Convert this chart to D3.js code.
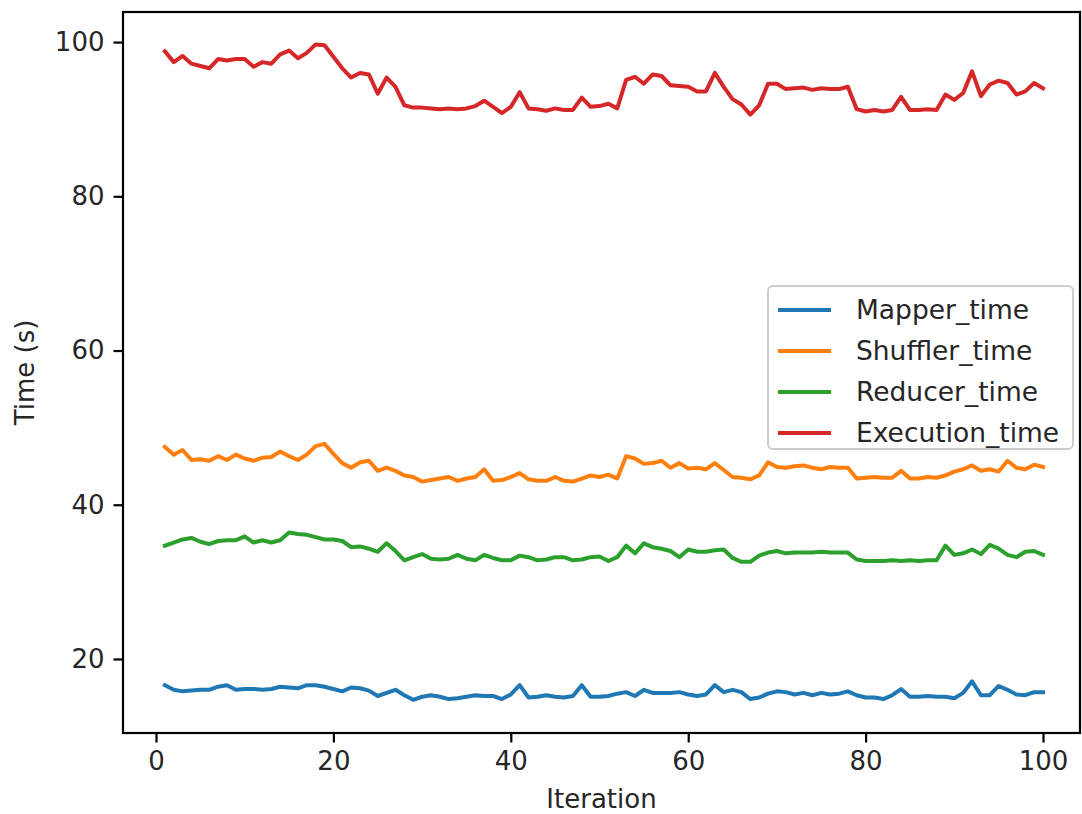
<!DOCTYPE html>
<html>
<head>
<meta charset="utf-8">
<script src="https://cdn.jsdelivr.net/npm/d3@7"></script>
<style>
  html, body { margin: 0; padding: 0; background: #fff; }
  svg { display: block; font-family: "DejaVu Sans", sans-serif; }
</style>
</head>
<body>
<svg id="chart" width="1082" height="814"></svg>
<script>
const iterations = d3.range(1, 101);
const mapperTime = [16.6,16.0,15.8,15.9,16.0,16.0,16.4,16.6,16.0,16.1,16.1,16.0,16.1,16.4,16.3,16.2,16.6,16.6,16.4,16.1,15.8,16.3,16.2,15.9,15.2,15.6,16.0,15.3,14.7,15.1,15.3,15.1,14.8,14.9,15.1,15.3,15.2,15.2,14.8,15.4,16.6,15.0,15.1,15.3,15.1,15.0,15.2,16.6,15.1,15.1,15.2,15.5,15.7,15.2,16.0,15.6,15.6,15.6,15.7,15.4,15.2,15.4,16.6,15.7,16.0,15.7,14.8,15.0,15.5,15.8,15.7,15.4,15.6,15.3,15.6,15.4,15.5,15.8,15.3,15.0,15.0,14.8,15.3,16.1,15.1,15.1,15.2,15.1,15.1,14.9,15.6,17.1,15.3,15.3,16.5,16.0,15.4,15.3,15.7,15.7];
const shufflerTime = [47.5,46.5,47.1,45.8,45.9,45.7,46.3,45.8,46.5,46.0,45.7,46.1,46.2,46.9,46.3,45.8,46.5,47.6,47.9,46.6,45.4,44.8,45.5,45.7,44.4,44.8,44.4,43.8,43.6,43.0,43.2,43.4,43.6,43.1,43.4,43.6,44.6,43.1,43.2,43.6,44.1,43.3,43.1,43.1,43.6,43.1,43.0,43.4,43.8,43.6,43.9,43.4,46.3,46.0,45.3,45.4,45.7,44.8,45.4,44.7,44.8,44.6,45.4,44.5,43.6,43.5,43.3,43.8,45.5,44.9,44.8,45.0,45.1,44.8,44.6,44.9,44.8,44.8,43.4,43.5,43.6,43.5,43.5,44.4,43.4,43.4,43.6,43.5,43.8,44.3,44.6,45.1,44.4,44.6,44.3,45.7,44.8,44.6,45.2,44.9];
const reducerTime = [34.7,35.1,35.5,35.7,35.2,34.9,35.3,35.4,35.4,35.9,35.1,35.4,35.1,35.4,36.4,36.2,36.1,35.8,35.5,35.5,35.3,34.5,34.6,34.3,33.9,35.0,34.0,32.8,33.2,33.6,33.0,32.9,33.0,33.5,33.0,32.8,33.5,33.1,32.8,32.8,33.4,33.2,32.8,32.9,33.2,33.2,32.8,32.9,33.2,33.3,32.7,33.2,34.7,33.7,35.0,34.5,34.3,34.0,33.2,34.2,33.9,33.9,34.1,34.2,33.1,32.6,32.6,33.4,33.8,34.0,33.7,33.8,33.8,33.8,33.9,33.8,33.8,33.8,32.9,32.7,32.7,32.7,32.8,32.7,32.8,32.7,32.8,32.8,34.7,33.5,33.7,34.2,33.6,34.8,34.3,33.5,33.2,33.9,34.0,33.5];
const executionTime = [98.8,97.4,98.2,97.2,96.9,96.6,97.8,97.6,97.8,97.8,96.8,97.4,97.2,98.4,98.9,97.9,98.6,99.7,99.6,98.1,96.6,95.4,96.0,95.8,93.3,95.4,94.2,91.8,91.5,91.5,91.4,91.3,91.4,91.3,91.4,91.7,92.4,91.6,90.8,91.6,93.5,91.4,91.3,91.1,91.4,91.2,91.2,92.8,91.6,91.7,92.0,91.4,95.1,95.5,94.6,95.8,95.6,94.4,94.3,94.2,93.6,93.6,96.0,94.2,92.6,91.9,90.6,91.8,94.6,94.6,93.9,94.0,94.1,93.8,94.0,93.9,93.9,94.2,91.3,91.0,91.2,91.0,91.2,92.9,91.2,91.2,91.3,91.2,93.2,92.5,93.4,96.2,93.0,94.5,95.0,94.7,93.2,93.6,94.7,94.0];

const seriesNames = ["Mapper_time", "Shuffler_time", "Reducer_time", "Execution_time"];
const seriesValues = [mapperTime, shufflerTime, reducerTime, executionTime];
const seriesColors = ["#1f77b4", "#ff7f0e", "#2ca02c", "#d62728"];
const xTicks = [0, 20, 40, 60, 80, 100];
const yTicks = [20, 40, 60, 80, 100];

(function () {
const svg = d3.select("#chart");
const pl = 123, pr = 1080, pt = 12, pb = 733;
const FS = 26;

const x = d3.scaleLinear().domain([-3.72, 104.17]).range([pl, pr]);
const y = d3.scaleLinear().domain([10.4, 103.9]).range([pb, pt]);

// lines
const line = d3.line().x((d, i) => x(iterations[i])).y(d => y(d));
seriesValues.forEach((vals, k) => {
  svg.append("path")
    .datum(vals)
    .attr("fill", "none")
    .attr("stroke", seriesColors[k])
    .attr("stroke-width", 4)
    .attr("stroke-linejoin", "round")
    .attr("stroke-linecap", "square")
    .attr("d", line);
});

// frame
svg.append("rect")
  .attr("x", pl).attr("y", pt)
  .attr("width", pr - pl).attr("height", pb - pt)
  .attr("fill", "none").attr("stroke", "#000").attr("stroke-width", 2.2);

// axes
const xAxis = d3.axisBottom(x).tickValues(xTicks).tickSize(9.5).tickPadding(9).tickFormat(d3.format("d"));
const gx = svg.append("g").attr("transform", `translate(0,${pb})`).call(xAxis);
gx.select(".domain").remove();
gx.selectAll(".tick line").attr("stroke", "#000").attr("stroke-width", 2.2);
gx.selectAll(".tick text").attr("fill", "#262626").style("font-size", FS + "px").style("font-family", "DejaVu Sans");

const yAxis = d3.axisLeft(y).tickValues(yTicks).tickSize(9.5).tickPadding(9).tickFormat(d3.format("d"));
const gy = svg.append("g").attr("transform", `translate(${pl},0)`).call(yAxis);
gy.select(".domain").remove();
gy.selectAll(".tick line").attr("stroke", "#000").attr("stroke-width", 2.2);
gy.selectAll(".tick text").attr("fill", "#262626").style("font-size", FS + "px").style("font-family", "DejaVu Sans");

// axis labels
svg.append("text")
  .attr("x", (pl + pr) / 2).attr("y", 808)
  .attr("text-anchor", "middle")
  .attr("fill", "#262626")
  .style("font-size", FS + "px")
  .text("Iteration");

svg.append("text")
  .attr("transform", `translate(34,${(pt + pb) / 2}) rotate(-90)`)
  .attr("text-anchor", "middle")
  .attr("fill", "#262626")
  .style("font-size", FS + "px")
  .text("Time (s)");

// legend
const lg = svg.append("g");
lg.append("rect")
  .attr("x", 768).attr("y", 286)
  .attr("width", 305).attr("height", 163)
  .attr("rx", 5).attr("ry", 5)
  .attr("fill", "rgba(255,255,255,0.8)")
  .attr("stroke", "#cccccc").attr("stroke-width", 2);
seriesNames.forEach((name, k) => {
  const cy = 310 + k * 41;
  lg.append("line")
    .attr("x1", 778).attr("x2", 831)
    .attr("y1", cy).attr("y2", cy)
    .attr("stroke", seriesColors[k]).attr("stroke-width", 4);
  lg.append("text")
    .attr("x", 856).attr("y", cy + 9)
    .attr("fill", "#262626")
    .style("font-size", "26.5px")
    .text(name);
});
})();
</script>
</body>
</html>
